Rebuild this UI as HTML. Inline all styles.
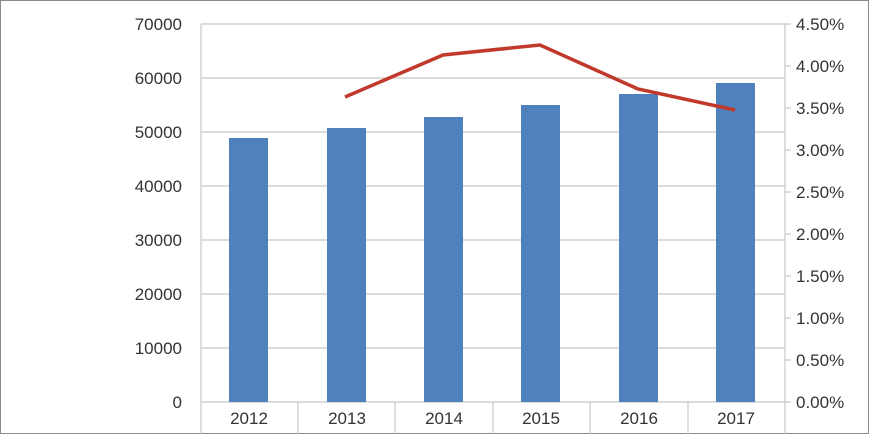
<!DOCTYPE html><html><head><style>body{margin:0;background:#fff}svg{display:block}text{font-family:"Liberation Sans",sans-serif;font-size:17px;fill:#333}</style></head><body>
<svg width="870" height="436" viewBox="0 0 870 436">
<rect x="0.5" y="0.5" width="868" height="433" fill="#fff" stroke="#8a8a8a"/>
<g stroke="#c8c8c8" stroke-width="1.2">
<line x1="201" y1="24" x2="785" y2="24"/><line x1="201" y1="78" x2="785" y2="78"/><line x1="201" y1="132" x2="785" y2="132"/><line x1="201" y1="186" x2="785" y2="186"/><line x1="201" y1="240" x2="785" y2="240"/><line x1="201" y1="294" x2="785" y2="294"/><line x1="201" y1="348" x2="785" y2="348"/><line x1="201" y1="402" x2="785" y2="402"/>
<line x1="201" y1="24" x2="201" y2="434"/><line x1="785" y1="24" x2="785" y2="434"/>
<line x1="298" y1="402" x2="298" y2="434"/><line x1="395" y1="402" x2="395" y2="434"/><line x1="493" y1="402" x2="493" y2="434"/><line x1="590" y1="402" x2="590" y2="434"/><line x1="688" y1="402" x2="688" y2="434"/>
<line x1="785" y1="24" x2="791" y2="24"/><line x1="785" y1="66" x2="791" y2="66"/><line x1="785" y1="108" x2="791" y2="108"/><line x1="785" y1="150" x2="791" y2="150"/><line x1="785" y1="192" x2="791" y2="192"/><line x1="785" y1="234" x2="791" y2="234"/><line x1="785" y1="276" x2="791" y2="276"/><line x1="785" y1="318" x2="791" y2="318"/><line x1="785" y1="360" x2="791" y2="360"/><line x1="785" y1="402" x2="791" y2="402"/>
</g>
<g fill="#4f81bd">
<rect x="229" y="138" width="39" height="264"/><rect x="327" y="128" width="39" height="274"/><rect x="424" y="117" width="39" height="285"/><rect x="521" y="105" width="39" height="297"/><rect x="619" y="94" width="39" height="308"/><rect x="716" y="83" width="39" height="319"/>
</g>
<polyline points="345,97 443,55 540,45 638,89 735,110" fill="none" stroke="#c0392b" stroke-width="3.5"/>
<g text-anchor="end">
<text x="182" y="30">70000</text><text x="182" y="84">60000</text><text x="182" y="138">50000</text><text x="182" y="192">40000</text><text x="182" y="246">30000</text><text x="182" y="300">20000</text><text x="182" y="354">10000</text><text x="182" y="408">0</text>
</g>
<g>
<text x="796" y="30">4.50%</text><text x="796" y="72">4.00%</text><text x="796" y="114">3.50%</text><text x="796" y="156">3.00%</text><text x="796" y="198">2.50%</text><text x="796" y="240">2.00%</text><text x="796" y="282">1.50%</text><text x="796" y="324">1.00%</text><text x="796" y="366">0.50%</text><text x="796" y="408">0.00%</text>
</g>
<g text-anchor="middle">
<text x="249" y="424">2012</text><text x="347" y="424">2013</text><text x="444" y="424">2014</text><text x="541" y="424">2015</text><text x="639" y="424">2016</text><text x="736" y="424">2017</text>
</g>
</svg></body></html>
